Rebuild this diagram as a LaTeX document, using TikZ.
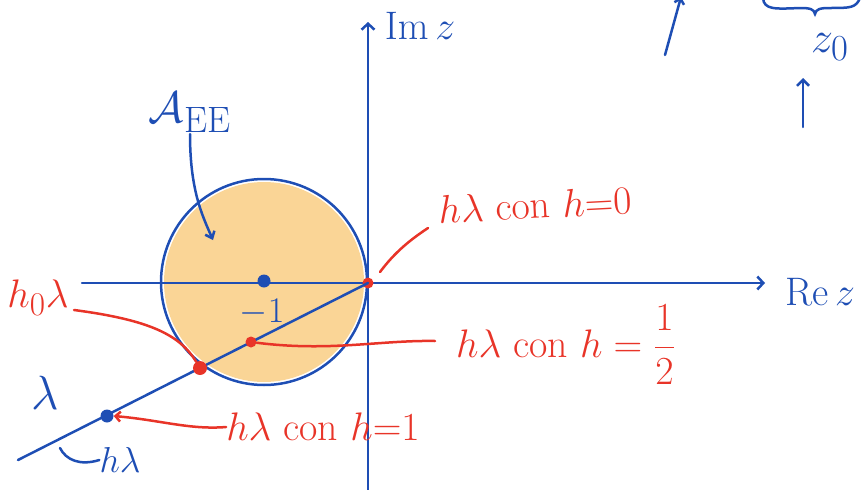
\documentclass[tikz,border=0pt]{standalone}
\usetikzlibrary{arrows.meta}
\definecolor{pen}{RGB}{30,78,180}
\definecolor{redpen}{RGB}{232,52,40}
\definecolor{fillo}{RGB}{250,213,150}
\newcommand{\bigtx}[2]{\scalebox{#1}{\Huge #2}}
\begin{document}
\begin{tikzpicture}[x=1pt,y=-1pt,
  bl/.style={draw=pen,line width=2.5pt,line cap=round},
  rd/.style={draw=redpen,line width=2.5pt,line cap=round},
  barb/.style={-{Straight Barb[length=6pt,width=13pt]}},
  btext/.style={text=pen,inner sep=0pt},
  rtext/.style={text=redpen,inner sep=0pt},
  bdot/.style={circle,fill=pen,minimum size=13pt,inner sep=0pt},
  rdot/.style={circle,fill=redpen,minimum size=11pt,inner sep=0pt}]
\useasboundingbox (0,0) rectangle (863,490);
\clip (0,0) rectangle (863,490);
% disk
\fill[fillo] (264,282) circle (100);
\draw[bl] (264,282) circle (103);
% axes
\coordinate (xl) at (82,283);
\coordinate (xr) at (765,283);
\coordinate (yb) at (368,492);
\coordinate (yt) at (368,22);
\draw[bl,barb] (xl) -- (xr);
\draw[bl,barb] (yb) -- (yt);
\node[btext] (re) at (820,292) {\bigtx{1.6}{$\mathrm{Re}\,z$}};
\node[btext] (im) at (420,26) {\bigtx{1.6}{$\mathrm{Im}\,z$}};
% lambda line
\coordinate (lend) at (18,460);
\node[rdot] (o) at (368,283) {};
\draw[bl] (o.center) -- (lend);
\node[bdot] (c) at (264,281) {};
\node[rdot] (half) at (251,342) {};
\node[rdot,minimum size=14pt] (h0) at (200,368) {};
\node[bdot] (one) at (107,416) {};
\node[btext] (m1) at (262,312) {\bigtx{1.45}{$-1$}};
% A_EE
\node[btext] (A) at (190,112) {\bigtx{1.77}{$\mathcal{A}_{\mathrm{EE}}$}};
\coordinate (Aend) at (213,240);
\draw[bl,-{Straight Barb[length=6pt,width=10pt]}] (190,134) .. controls (190,190) and (202,215) .. (Aend);
% red labels
\node[rtext,rotate=3] (l0) at (535,205) {\bigtx{1.6}{$h\lambda$ con $h{=}0$}};
\draw[rd] (380,272) .. controls (395,252) and (410,240) .. (428,228);
\node[rtext] (lh0) at (38,298) {\bigtx{1.6}{$h_0\lambda$}};
\draw[rd] (74,310) .. controls (150,320) and (180,335) .. (h0);
\node[rtext,anchor=west] (lhalf) at (456,345) {\bigtx{1.6}{$h\lambda$ con $h=\displaystyle\frac{1}{2}$}};
\coordinate (halfend) at (435,341);
\draw[rd] (half) .. controls (330,352) and (380,340) .. (halfend);
\node[rtext] (lone) at (323,427) {\bigtx{1.6}{$h\lambda$ con $h{=}1$}};
\draw[rd,-{Straight Barb[length=5pt,width=10pt]}] (lone.west) .. controls (190,430) and (160,420) .. (one.east);
% blue lambda labels
\node[btext] (lam) at (45,393) {\bigtx{1.93}{$\lambda$}};
\node[btext] (hlam) at (120,460) {\bigtx{1.45}{$h\lambda$}};
\draw[bl] (60,448) .. controls (66,460) and (80,466) .. (hlam.west);
% stray marks at top right
\coordinate (s1) at (665,55);
\coordinate (s2) at (681,-3);
\draw[bl,-{Straight Barb[length=5pt,width=10pt]}] (s1) -- (s2);
\draw[bl] (763,-2) .. controls (764,10) and (775,9) .. (800,8) .. controls (810,8) and (814,9) .. (815,14) .. controls (816,9) and (820,8) .. (830,8) .. controls (850,8) and (856,8) .. (860,-2);
\node[btext] (z0) at (830,47) {\bigtx{1.77}{$z_0$}};
\coordinate (ab) at (803,127);
\coordinate (at) at (803,78);
\draw[bl,-{Straight Barb[length=6pt,width=12pt]}] (ab) -- (at);
\end{tikzpicture}
\end{document}
